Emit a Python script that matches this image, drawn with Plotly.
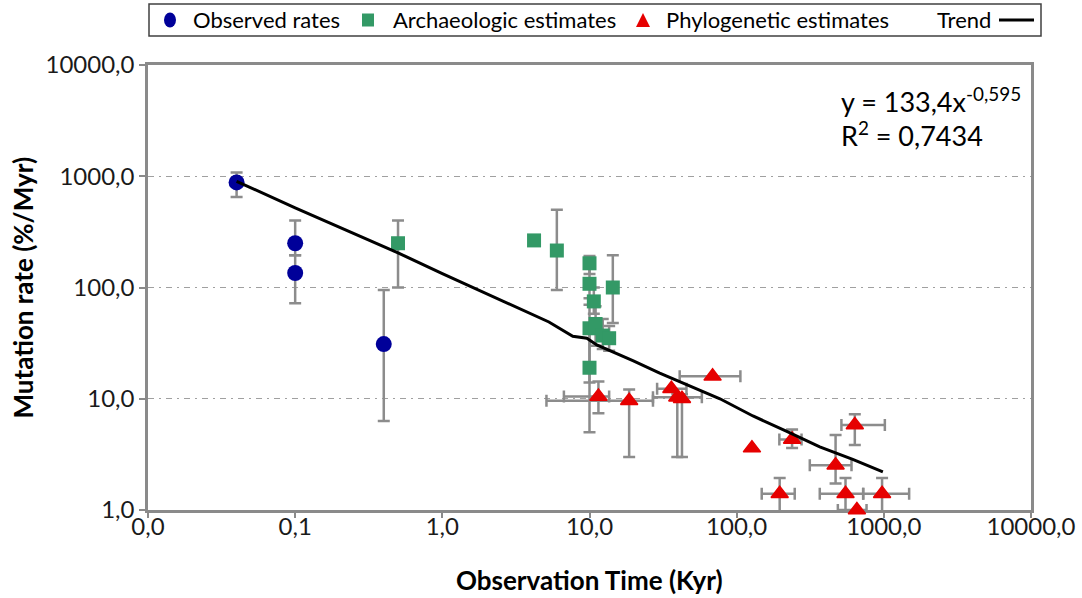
import plotly.graph_objects as go

# ---------------- data ----------------
# Observed rates
obs_x = [0.04, 0.1, 0.1, 0.4]
obs_y = [880, 250, 135, 31]
obs_hi = [1080, 400, 195, 95]
obs_lo = [650, 195, 72, 6.3]

# Archaeologic estimates
arc_x = [0.5, 4.2, 6.0, 10.0, 10.0, 10.7, 10.0, 11.0, 12.3, 13.6, 14.4, 10.0]
arc_y = [250, 265, 215, 165, 108, 75, 43, 47, 37, 35, 100, 19]
arc_hi = [400, None, 500, 192, 160, 100, 70, 68, 52, 45, 195, 40]
arc_lo = [100, None, 95, 132, 80, 58, 14, 30, 28, 27, 48, 5]

# Phylogenetic estimates
phy_x = [11.5, 18.6, 36, 39.5, 42.5, 68.6, 127, 238, 635, 470, 196, 549, 973, 656]
phy_y = [10.5, 9.6, 12.3, 10.3, 10.0, 15.9, 3.6, 4.3, 5.8, 2.53, 1.40, 1.40, 1.40, 1.0]
phy_hi = [14.3, 12.1, None, 11.0, 11.0, None, None, 5.3, 7.25, 4.73, 1.94, 1.94, 1.94, None]
phy_lo = [7.4, 3.0, None, 3.0, 3.0, None, None, 3.6, 3.84, 1.73, 0.85, 0.85, 0.85, None]
phy_xlo = [6.7, 5.1, 28.8, 27, None, 41, None, 195, 515, 314, 148, 367, 724, 487]
phy_xhi = [13.6, 27, 45.6, 58, None, 106, None, 276, 1016, 603, 248, 724, 1486, 763]

# Trend line
trend_x = [0.04, 0.1, 0.5, 1.0, 5.3, 7.7, 9.6, 11.2, 19.7, 30, 77, 129, 219, 367, 615, 985]
trend_y = [900, 520, 205, 133, 49, 36.5, 35, 30.5, 22, 17, 10, 7, 5.1, 3.7, 2.85, 2.2]

x_tickvals = [0.01, 0.1, 1, 10, 100, 1000, 10000]
x_ticktext = ["0,0", "0,1", "1,0", "10,0", "100,0", "1000,0", "10000,0"]
y_tickvals = [1, 10, 100, 1000, 10000]
y_ticktext = ["1,0", "10,0", "100,0", "1000,0", "10000,0"]

series_names = ["Observed rates", "Archaeologic estimates", "Phylogenetic estimates", "Trend"]
equation_lines = ["y = 133,4x<sup>-0,595</sup>", "R<sup>2</sup> = 0,7434"]

# ---------------- styles ----------------
BLUE = "#000099"
GREEN = "#339966"
RED = "#e60000"
ERR = "#8c8c8c"
FONT = "Lato"

W, H = 1082, 598
L, R, T, B = 148, 1031, 65, 510


def px(xp):
    return (xp - L) / (R - L)


def py(yp):
    return (B - yp) / (B - T)


fig = go.Figure()


def add_err_traces(xs, ys, hi=None, lo=None, xhi=None, xlo=None):
    if hi is not None:
        idx = [i for i in range(len(xs)) if hi[i] is not None]
        if idx:
            fig.add_trace(go.Scatter(
                x=[xs[i] for i in idx], y=[ys[i] for i in idx], mode="markers",
                marker=dict(size=1, opacity=0), showlegend=False, hoverinfo="skip",
                error_y=dict(type="data", symmetric=False,
                             array=[hi[i] - ys[i] for i in idx],
                             arrayminus=[ys[i] - lo[i] for i in idx],
                             color=ERR, thickness=2.5, width=6)))
    if xhi is not None:
        idx = [i for i in range(len(xs)) if xhi[i] is not None]
        if idx:
            fig.add_trace(go.Scatter(
                x=[xs[i] for i in idx], y=[ys[i] for i in idx], mode="markers",
                marker=dict(size=1, opacity=0), showlegend=False, hoverinfo="skip",
                error_x=dict(type="data", symmetric=False,
                             array=[xhi[i] - xs[i] for i in idx],
                             arrayminus=[xs[i] - xlo[i] for i in idx],
                             color=ERR, thickness=2.5, width=6)))


add_err_traces(obs_x, obs_y, obs_hi, obs_lo)
add_err_traces(arc_x, arc_y, arc_hi, arc_lo)
add_err_traces(phy_x, phy_y, phy_hi, phy_lo, phy_xhi, phy_xlo)

fig.add_trace(go.Scatter(x=obs_x, y=obs_y, mode="markers", name=series_names[0],
                         marker=dict(symbol="circle", size=16, color=BLUE,
                                     line=dict(width=0)), showlegend=False))
fig.add_trace(go.Scatter(x=arc_x, y=arc_y, mode="markers", name=series_names[1],
                         marker=dict(symbol="square", size=14, color=GREEN,
                                     line=dict(width=0)), showlegend=False))
fig.add_trace(go.Scatter(x=phy_x, y=phy_y, mode="markers", name=series_names[2],
                         cliponaxis=False,
                         marker=dict(symbol="triangle-up", size=15, color=RED,
                                     line=dict(width=1.5, color=RED)), showlegend=False))
fig.add_trace(go.Scatter(x=trend_x, y=trend_y, mode="lines", name=series_names[3],
                         line=dict(color="black", width=3), showlegend=False))

# ---------------- custom legend ----------------
LEG_Y = 20
shapes = [
    dict(type="rect", xref="paper", yref="paper", x0=px(149), x1=px(1041),
         y0=py(4), y1=py(36), line=dict(color="#404040", width=1.5), fillcolor="white",
         layer="below"),
    dict(type="circle", xref="paper", yref="paper", xsizemode="pixel", ysizemode="pixel",
         xanchor=px(170), yanchor=py(LEG_Y), x0=-6, x1=6, y0=-7.5, y1=7.5,
         fillcolor=BLUE, line=dict(width=0)),
    dict(type="rect", xref="paper", yref="paper", xsizemode="pixel", ysizemode="pixel",
         xanchor=px(368), yanchor=py(LEG_Y), x0=-6, x1=6, y0=-6.5, y1=6.5,
         fillcolor=GREEN, line=dict(width=0)),
    dict(type="path", xref="paper", yref="paper", xsizemode="pixel", ysizemode="pixel",
         xanchor=px(643), yanchor=py(LEG_Y), path="M -7,-7 L 7,-7 L 0,7 Z",
         fillcolor=RED, line=dict(width=0)),
    dict(type="line", xref="paper", yref="paper", x0=px(999), x1=px(1034),
         y0=py(LEG_Y), y1=py(LEG_Y), line=dict(color="black", width=3)),
]

annotations = []
leg_text_x = [191, 391, 664, 935]
for name, xp in zip(series_names, leg_text_x):
    annotations.append(dict(text=name, xref="paper", yref="paper", x=px(xp), y=py(LEG_Y),
                            xanchor="left", yanchor="middle", showarrow=False,
                            font=dict(family=FONT, size=22, color="black")))

annotations.append(dict(text=equation_lines[0], xref="paper", yref="paper", x=px(839),
                        y=py(100), xanchor="left", yanchor="middle", showarrow=False,
                        font=dict(family=FONT, size=27, color="black")))
annotations.append(dict(text=equation_lines[1], xref="paper", yref="paper", x=px(839),
                        y=py(134), xanchor="left", yanchor="middle", showarrow=False,
                        font=dict(family=FONT, size=27, color="black")))

annotations.append(dict(text="<b>Observation Time (Kyr)</b>", xref="paper", yref="paper",
                        x=0.5, y=py(580), xanchor="center", yanchor="middle",
                        showarrow=False, font=dict(family=FONT, size=26, color="black")))
annotations.append(dict(text="<b>Mutation rate (%/Myr)</b>", xref="paper", yref="paper",
                        x=px(22), y=0.5, xanchor="center", yanchor="middle", textangle=-90,
                        showarrow=False, font=dict(family=FONT, size=26, color="black")))

fig.update_layout(
    width=W, height=H,
    margin=dict(l=L, r=W - R, t=T, b=H - B, autoexpand=False),
    paper_bgcolor="white", plot_bgcolor="white",
    showlegend=False,
    shapes=shapes, annotations=annotations,
    font=dict(family=FONT, size=20, color="#1a1a1a"),
)
fig.update_xaxes(type="log", range=[-2, 4], tickvals=x_tickvals, ticktext=x_ticktext,
                 automargin=False, layer="below traces",
                 showgrid=False, zeroline=False, showline=True, linecolor="#8a8a8a",
                 linewidth=2.5, mirror=True, ticks="outside", ticklen=5, tickwidth=2,
                 ticklabelstandoff=-12,
                 tickcolor="#8a8a8a", tickfont=dict(family=FONT, size=24, color="#1a1a1a"))
fig.update_yaxes(type="log", range=[0, 4], tickvals=y_tickvals, ticktext=y_ticktext,
                 automargin=False, layer="below traces",
                 showgrid=True, gridcolor="#a0a0a0", gridwidth=1.3,
                 griddash="6px,5px,2px,5px", zeroline=False,
                 showline=True, linecolor="#8a8a8a", linewidth=2.5, mirror=True,
                 ticks="outside", ticklen=6, tickwidth=2, tickcolor="#8a8a8a",
                 tickfont=dict(family=FONT, size=24, color="#1a1a1a"))

fig.write_html("out.html")
